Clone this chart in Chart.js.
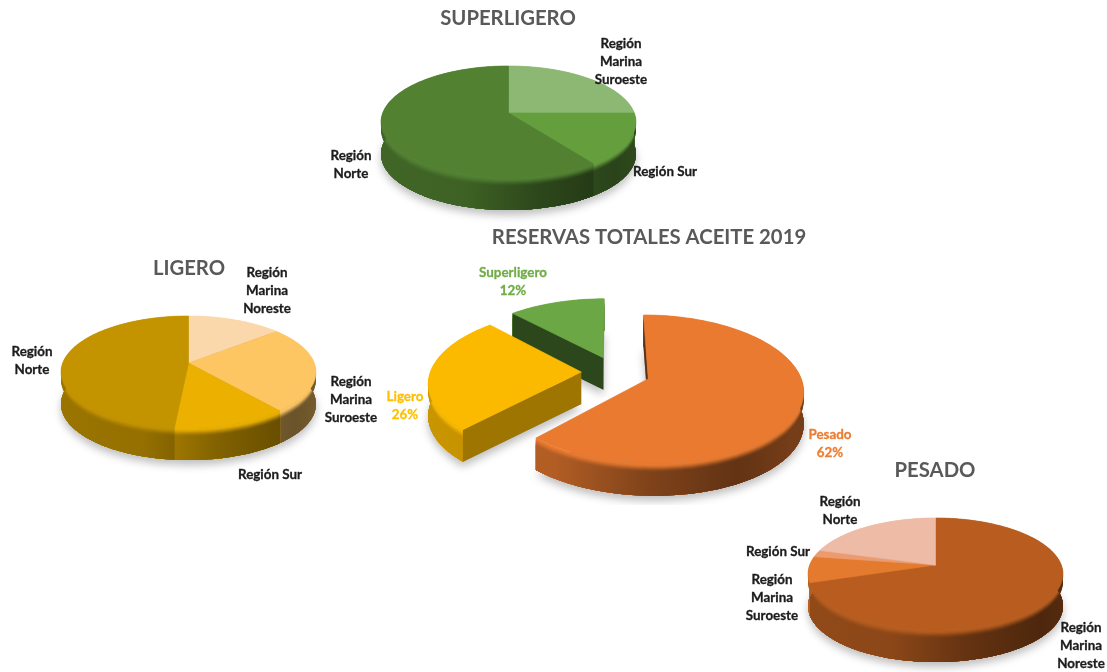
<!DOCTYPE html>
<html><head><meta charset="utf-8">
<script src="https://cdn.jsdelivr.net/npm/chart.js@4"></script>
<style>html,body{margin:0;padding:0;background:#fff;width:1107px;height:672px;overflow:hidden}canvas{position:absolute}</style>
</head><body>
<script>
// ---------- data ----------
const superCategories = ['Región Marina Suroeste','Región Sur','Región Norte'];
const superValues = [25,15,60];
const ligeroCategories = ['Región Marina Noreste','Región Marina Suroeste','Región Sur','Región Norte'];
const ligeroValues = [14,25,12.5,48.5];
const pesadoCategories = ['Región Marina Noreste','Región Marina Suroeste','Región Sur','Región Norte'];
const pesadoValues = [70,7.5,2,20.5];
const totalCategories = ['Pesado','Ligero','Superligero'];
const totalValues = [62,26,12];
// ---------- style ----------
const FONT='Lato, "Open Sans", sans-serif';
function hex(c){return [1,3,5].map(i=>parseInt(c.substr(i,2),16));}
function mul(c,f){const r=hex(c);return `rgb(${r.map(x=>Math.min(255,Math.round(x*f))).join(',')})`;}
const STOPS=[[0,.8],[.35,.76],[.6,.55],[.85,.42],[1,.5]];
const BEVEL=8;
const persp3d={id:'persp3d',
 beforeDatasetsDraw(chart,args,o){
  const ctx=chart.ctx,g=o.geo,arcs=chart.getDatasetMeta(0).data,left=o.box[0],top=o.box[1];
  const cx=g.cx-left,cy=g.cy-top;
  const proj=(u,v,i)=>{const w=1-g.p*v;return [cx+g.rx*u/w,cy+g.ry*v/w+i];};
  const colors=chart.data.datasets[0].backgroundColor;
  const paths=arcs.map((a,k)=>{
    const e=g.explode?g.explode[k]:[0,0],n=Math.max(4,Math.ceil((a.endAngle-a.startAngle)*40)),pts=[];
    for(let j=0;j<=n;j++){const t=a.startAngle+(a.endAngle-a.startAngle)*j/n;pts.push([Math.cos(t)+e[0],Math.sin(t)+e[1]]);}
    return {rim:pts,v:e};
  });
  const poly=(list)=>{ctx.beginPath();list.forEach((p,i)=>i?ctx.lineTo(p[0],p[1]):ctx.moveTo(p[0],p[1]));ctx.closePath();};
  const order=g.order||arcs.map((_,i)=>i);
  const shapeAt=(P,i)=>[proj(P.v[0],P.v[1],i),...P.rim.map(q=>proj(q[0],q[1],i))];
  // soft ground shadow
  ctx.save();ctx.shadowColor='rgba(0,0,0,.26)';ctx.shadowBlur=9;ctx.shadowOffsetY=5;ctx.fillStyle='#888';
  order.forEach(k=>{poly(shapeAt(paths[k],g.depth));ctx.fill();});
  ctx.restore();
  const drawWalls=k=>{
    const P=paths[k],col=colors[k];
    const dn=P.rim.map(q=>proj(q[0],q[1],g.depth)).reverse();
    for(let i=0;i<=BEVEL;i++){
      const b=i/BEVEL,t=b*b*(3-2*b);
      const gr=ctx.createLinearGradient(cx-g.rx*1.2,0,cx+g.rx*1.2,0);
      STOPS.forEach(s=>gr.addColorStop(s[0],mul(col,1+(s[1]-1)*t)));
      poly(P.rim.map(q=>proj(q[0],q[1],i)).concat(dn));ctx.fillStyle=gr;ctx.fill();
    }
    if(g.edge){
      const q=P.rim[0],a=proj(P.v[0],P.v[1],0),c=proj(q[0],q[1],0);
      poly([a,c,[c[0],c[1]+g.depth],[a[0],a[1]+g.depth]]);ctx.fillStyle=mul(col,g.edge[k]);ctx.fill();
    }
  };
  const drawTop=k=>{poly(shapeAt(paths[k],0));ctx.fillStyle=colors[k];ctx.strokeStyle=colors[k];ctx.lineWidth=.6;ctx.fill();ctx.stroke();};
  if(g.explode){order.forEach(k=>{drawWalls(k);drawTop(k);});}
  else{order.forEach(drawWalls);order.forEach(drawTop);}
  return false;
 },
 afterDraw(chart,args,o){
  const ctx=chart.ctx,left=o.box[0],top=o.box[1];
  ctx.save();ctx.font='bold 13.4px '+FONT;ctx.textAlign='center';ctx.textBaseline='middle';ctx.lineWidth=.3;
  o.labels.forEach(l=>{ctx.fillStyle=l.color;ctx.strokeStyle=l.color;l.lines.forEach((s,i)=>{ctx.fillText(s,l.x-left,l.y-top+i*l.step);ctx.strokeText(s,l.x-left,l.y-top+i*l.step);});});
  ctx.restore();
 }};
function wrap(t){return t==='Región Sur'?[t]:t.split(' ');}
function make(box,title,cats,vals,colors,geo,labels){
  const c=document.createElement('canvas');
  c.style.left=box[0]+'px';c.style.top=box[1]+'px';c.width=box[2];c.height=box[3];
  c.style.width=box[2]+'px';c.style.height=box[3]+'px';
  document.body.appendChild(c);
  new Chart(c,{type:'pie',plugins:[persp3d],
   data:{labels:cats,datasets:[{data:vals,backgroundColor:colors,borderWidth:0}]},
   options:{responsive:false,animation:false,events:[],layout:{padding:0},
    plugins:{legend:{display:false},tooltip:{enabled:false},
     title:{display:true,text:title,color:'#595959',padding:0,font:{family:FONT,size:20.3,weight:'bold'}},
     persp3d:{box,geo,labels}}}});
}
const small=(cx,cy)=>({cx,cy,rx:125.8,ry:54.6,p:.161,depth:32});
const dark='#1c1c1c';
const at=(cats,pos)=>pos.map((q,i)=>({lines:wrap(cats[i]),x:q[0],y:q[1],step:18,color:dark}));

make([250,6,516,220],'SUPERLIGERO',superCategories,superValues,['#8CB873','#659F3D','#518131'],small(508.5,113),
  at(superCategories,[[621,44],[665,172],[351,156]]));
make([0,256,378,232],'LIGERO',ligeroCategories,ligeroValues,['#FBD8AC','#FDC663','#EBB000','#C49300'],small(188.5,363),
  at(ligeroCategories,[[267,273],[351,382],[270,475],[32,352]]));
make([730,458,410,214],'PESADO',pesadoCategories,pesadoValues,['#B85D1F','#E37A2E','#EC9A6E','#EEBBA6'],small(935.5,565),
  at(pesadoCategories,[[1081,628],[772,580],[778,552],[840,502]]));
const totalColors=['#E97A30','#FBBA00','#6BA845'],labelColors=['#ED7D31','#FFC000','#70AD47'];
make([384,225,530,280],'RESERVAS TOTALES ACEITE 2019',totalCategories,totalValues,totalColors,
  {cx:610,cy:372,rx:151,ry:71,p:.14,depth:32,order:[2,1,0],explode:[[.25,.0945],[-.19,0],[-.045,-.205]],edge:[.4,.63,.42]},
  [[830,435],[405,397],[513,273]].map((q,i)=>({lines:[totalCategories[i],totalValues[i]+'%'],x:q[0],y:q[1],step:18,color:labelColors[i]})));
</script>
</body></html>
